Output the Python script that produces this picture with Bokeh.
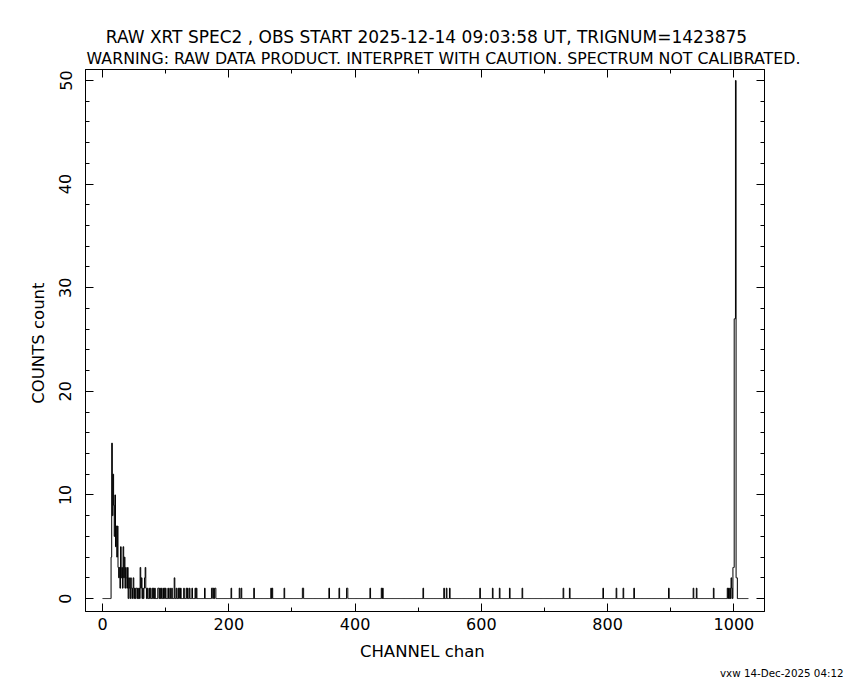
import numpy as np
from bokeh.plotting import figure
from bokeh.layouts import column
from bokeh.models import Range1d, LinearAxis, SingleIntervalTicker
from bokeh.core.properties import value
from bokeh.embed import file_html
from bokeh.resources import INLINE

# ---------------- data ----------------
n_channels = 1024

low_channels = list(range(14, 73))
low_counts = [4, 15, 8, 12, 9, 6, 10, 5, 7, 4, 7, 3, 2, 3, 1, 5, 2, 3, 1, 5,
              2, 4, 1, 3, 2, 1, 3, 0, 2, 1, 0, 2, 1, 0, 1, 2, 0, 1, 0, 1,
              1, 0, 1, 0, 1, 0, 3, 1, 2, 0, 1, 0, 1, 2, 3, 1, 0, 1, 0]

sparse_channels = [74, 76, 79, 81, 83, 88, 89, 91, 93, 96, 98, 100, 104, 107, 110,
                   114, 117, 120, 122, 124, 129, 133, 135, 138, 142, 147, 149, 162,
                   173, 174, 176, 178, 179, 204, 217, 220, 240, 267, 269, 288, 317,
                   318, 359, 375, 387, 388, 424, 442, 444, 508, 541, 545, 550, 598,
                   618, 629, 645, 665, 730, 740, 793, 814, 825, 842, 897, 936, 941,
                   968, 990, 992, 994, 996, 997]
sparse_counts = [1, 1, 1, 1, 1, 1, 1, 1, 1, 1, 1, 1, 1, 1, 1,
                 2, 1, 1, 1, 1, 1, 1, 1, 1, 1, 1, 1, 1,
                 1, 1, 1, 1, 1, 1, 1, 1, 1, 1, 1, 1, 1,
                 1, 1, 1, 1, 1, 1, 1, 1, 1, 1, 1, 1, 1,
                 1, 1, 1, 1, 1, 1, 1, 1, 1, 1, 1, 1, 1,
                 1, 1, 1, 1, 2, 1]

peak_channels = [999, 1000, 1001, 1002, 1003, 1004, 1005]
peak_counts = [3, 3, 27, 27, 50, 2, 2]

x_tick_interval = 200
y_tick_interval = 10

title_line1 = "RAW XRT SPEC2 , OBS START 2025-12-14 09:03:58 UT, TRIGNUM=1423875"
title_line2 = "WARNING: RAW DATA PRODUCT. INTERPRET WITH CAUTION. SPECTRUM NOT CALIBRATED."
x_label = "CHANNEL  chan"
y_label = "COUNTS  count"
footer = "vxw 14-Dec-2025 04:12"

# ---------------- build ----------------
counts = np.zeros(n_channels)
for chs, cts in ((low_channels, low_counts), (sparse_channels, sparse_counts),
                 (peak_channels, peak_counts)):
    for ch, c in zip(chs, cts):
        counts[ch] = c
channels = np.arange(n_channels)

FONT = "DejaVu Sans"
W = 850
TITLE_H = 67
TOP_GAP = 69 - TITLE_H
MAIN_H = TOP_GAP + 542 + 53
FOOT_H = 680 - TITLE_H - MAIN_H


def text_strip(height):
    f = figure(width=W, height=height, x_range=Range1d(0, W), y_range=Range1d(height, 0),
               output_backend="svg", toolbar_location=None, min_border=0,
               x_axis_type=None, y_axis_type=None)
    f.frame_align = False
    f.xgrid.visible = False
    f.ygrid.visible = False
    f.outline_line_color = None
    f.background_fill_color = "white"
    f.border_fill_color = "white"
    return f


# title strip (y measured in page pixels from its top)
tf = text_strip(TITLE_H)
tf.text(x=[426], y=[36], text=[title_line1], text_align="center",
        text_baseline="alphabetic", text_font=value(FONT), text_font_size="17px",
        text_color="black")
tf.text(x=[443], y=[58], text=[title_line2], text_align="center",
        text_baseline="alphabetic", text_font=value(FONT), text_font_size="15.8px",
        text_color="black")

# main plot
p = figure(width=W, height=MAIN_H,
           x_range=Range1d(-27, 1048.5), y_range=Range1d(-1.25, 51.06),
           output_backend="svg", toolbar_location=None,
           min_border_left=85, min_border_right=86,
           min_border_top=TOP_GAP, min_border_bottom=MAIN_H - TOP_GAP - 542)
p.frame_align = False
p.xgrid.visible = False
p.ygrid.visible = False
p.outline_line_color = "black"
p.outline_line_alpha = 1.0
p.background_fill_color = "white"
p.border_fill_color = "white"

p.step(channels, counts, mode="center", line_color="black", line_width=1)


def style_axis(ax, ticker, show_labels):
    ax.ticker = ticker
    ax.axis_line_color = "black"
    ax.major_tick_in = 8
    ax.major_tick_out = 0
    ax.minor_tick_in = 4
    ax.minor_tick_out = 0
    ax.major_tick_line_color = "black"
    ax.minor_tick_line_color = "black"
    ax.major_label_text_font = FONT
    if show_labels:
        ax.major_label_text_font_size = "16px"
        ax.major_label_text_color = "black"
    else:
        ax.major_label_text_font_size = "0px"
        ax.major_label_text_color = None
        ax.major_label_standoff = 0
    ax.axis_label_text_font = FONT
    ax.axis_label_text_font_size = "16.5px"
    ax.axis_label_text_font_style = "normal"
    ax.axis_label_text_color = "black"


def xt():
    return SingleIntervalTicker(interval=x_tick_interval, num_minor_ticks=2)


def yt():
    return SingleIntervalTicker(interval=y_tick_interval, num_minor_ticks=5)


xa = p.xaxis[0]
style_axis(xa, xt(), True)
xa.axis_label = x_label
xa.major_label_standoff = 6
xa.axis_label_standoff = 9

ya = p.yaxis[0]
style_axis(ya, yt(), True)
ya.axis_label = y_label
ya.major_label_orientation = "vertical"
ya.major_label_standoff = 14
ya.axis_label_standoff = 9

top = LinearAxis()
style_axis(top, xt(), False)
p.add_layout(top, "above")
right = LinearAxis()
style_axis(right, yt(), False)
p.add_layout(right, "right")

# footer strip
ff = text_strip(FOOT_H)
ff.text(x=[843], y=[672 - (TITLE_H + MAIN_H)], text=[footer], text_align="right",
        text_baseline="alphabetic", text_font=value(FONT), text_font_size="10.3px",
        text_color="black")

layout = column(tf, p, ff, spacing=0)
open("out.html", "w").write(file_html(layout, INLINE))
